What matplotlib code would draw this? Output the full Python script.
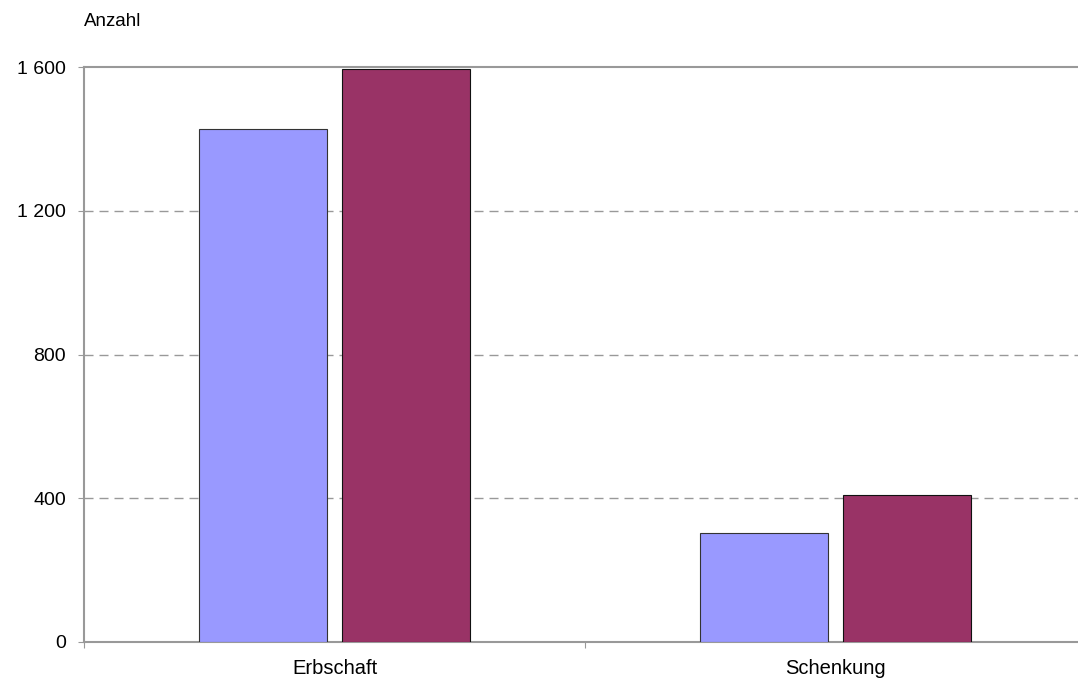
import matplotlib.pyplot as plt
import numpy as np

plt.rcParams['font.family'] = ['Liberation Sans', 'DejaVu Sans']

categories = ['Erbschaft', 'Schenkung']
series_a = [1427, 302]
series_b = [1594, 409]
yticks = [0, 400, 800, 1200, 1600]
ytick_labels = ['0', '400', '800', '1 200', '1 600']

fig = plt.figure(figsize=(10.78, 6.86), dpi=100)
ax = fig.add_axes([84 / 1078, 1 - 642 / 686, 1002 / 1078, 575 / 686])

x = np.arange(len(categories)) + 0.5
w = 0.255
gap = 0.03
ax.bar(x - (w + gap) / 2, series_a, width=w, color='#9999FF', edgecolor='#333333', linewidth=0.8, zorder=3)
ax.bar(x + (w + gap) / 2, series_b, width=w, color='#993366', edgecolor='#111111', linewidth=0.8, zorder=3)

ax.set_xlim(0, 2)
ax.set_ylim(0, 1600)
ax.set_yticks(yticks)
ax.set_yticklabels(ytick_labels)
ax.set_xticks([0, 1, 2])
ax.set_xticklabels([])
ax.set_xticks(x, minor=True)
ax.set_xticklabels(categories, minor=True)
ax.tick_params(axis='x', which='minor', length=0, pad=12, labelsize=14.5)
ax.tick_params(axis='x', which='major', length=4.5, color='#999999')
ax.tick_params(axis='y', length=4.5, color='#999999', labelsize=14, pad=8.5)

for yv in yticks[1:-1]:
    ax.axhline(yv, color='#999999', linestyle=(0, (6.5, 4.3)), linewidth=1, zorder=1)

for side in ['left', 'bottom', 'top']:
    ax.spines[side].set_color('#999999')
    ax.spines[side].set_linewidth(1.5)
ax.spines['right'].set_visible(False)

fig.text(84 / 1078, 1 - 21 / 686, 'Anzahl', fontsize=13.5, va='center', ha='left')

fig.savefig('out.png', dpi=100)
